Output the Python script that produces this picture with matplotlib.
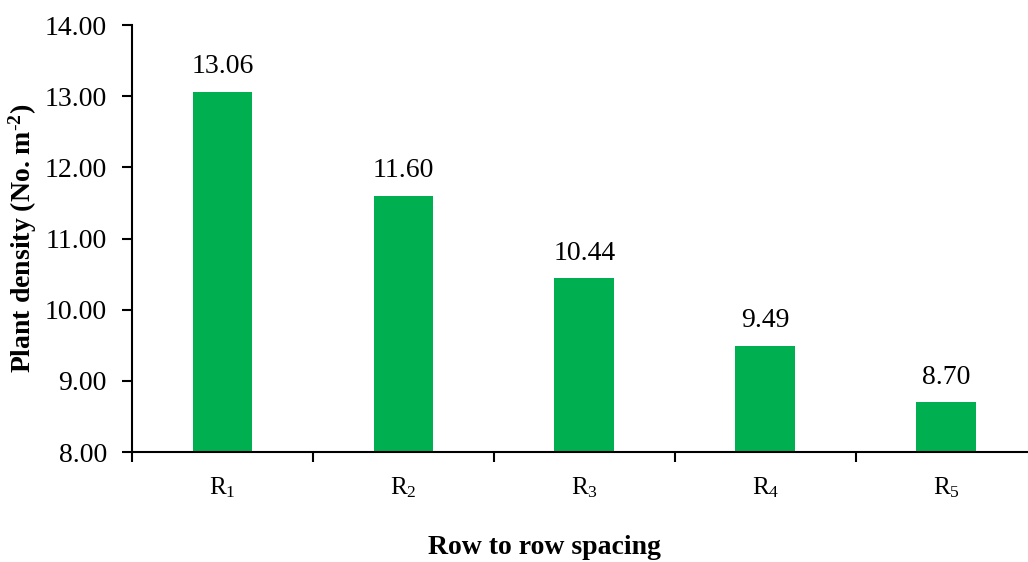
import numpy as np
import matplotlib.pyplot as plt

plt.rcParams['font.family'] = ['Liberation Serif', 'DejaVu Serif']
plt.rcParams['mathtext.fontset'] = 'custom'
plt.rcParams['mathtext.rm'] = 'Liberation Serif'
plt.rcParams['mathtext.it'] = 'Liberation Serif:italic'
plt.rcParams['mathtext.bf'] = 'Liberation Serif:bold'

# Plant density per row spacing treatment
spacings = [r'R$_1$', r'R$_2$', r'R$_3$', r'R$_4$', r'R$_5$']
density = [13.06, 11.60, 10.44, 9.49, 8.70]

fig = plt.figure(figsize=(10.28, 5.62), dpi=100)
ax = fig.add_axes([0.1284, 0.1957, 0.880, 0.7598])

x = np.arange(len(spacings))
bars = ax.bar(x, np.array(density) - 8, bottom=8, width=0.33, color='#00B050')

for xi, v in zip(x, density):
    ax.annotate(f'{v:.2f}', (xi, v), xytext=(0, 9), textcoords='offset points',
                ha='center', va='bottom', fontsize=20)

ax.set_ylim(8, 14)
ax.set_xlim(-0.5, len(spacings) - 0.5)
ax.set_yticks(np.arange(8, 14.01, 1))
ax.set_yticklabels([f'{t:.2f}' for t in np.arange(8, 14.01, 1)])

# category labels centred, ticks on category boundaries
ax.set_xticks(np.arange(-0.5, len(spacings) + 0.5, 1))
ax.set_xticklabels([])
ax.set_xticks(x, minor=True)
ax.set_xticklabels(spacings, minor=True)
ax.tick_params(axis='x', which='minor', length=0, pad=17, labelsize=18)
ax.tick_params(axis='x', which='major', direction='out', length=7, width=1.5)
ax.tick_params(axis='y', direction='out', length=7, width=1.5, labelsize=20, pad=11)

for side in ['top', 'right']:
    ax.spines[side].set_visible(False)
for side in ['left', 'bottom']:
    ax.spines[side].set_linewidth(1.5)

ax.set_ylabel('Plant density (No. m$^{\\mathbf{\\text{-}2}}$)', fontsize=20, fontweight='bold', labelpad=4)
fig.text(0.53, 0.025, 'Row to row spacing', ha='center', va='center', fontsize=20, fontweight='bold')

fig.savefig('out.png', dpi=100)
